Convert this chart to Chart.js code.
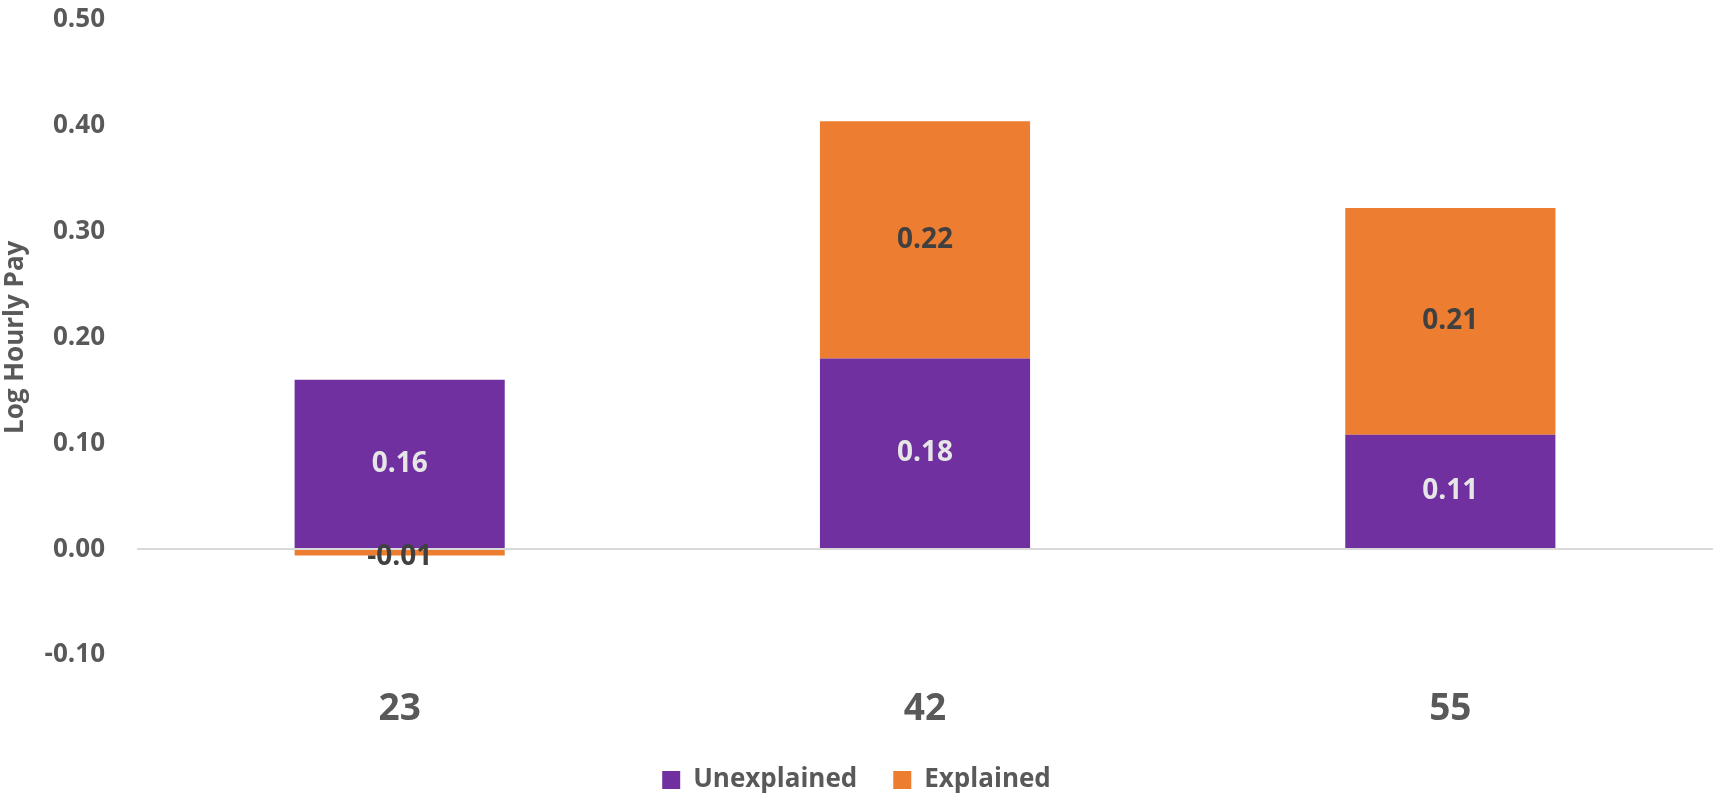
<!DOCTYPE html>
<html>
<head>
<meta charset="utf-8">
<script src="https://cdn.jsdelivr.net/npm/chart.js@4.4.1/dist/chart.umd.min.js"></script>
<style>
  body { margin: 0; background: #ffffff; }
  #wrap { width: 1716px; height: 794px; position: relative; }
</style>
</head>
<body>
<div id="wrap"><canvas id="payChart"></canvas></div>
<script>
// Chart data
const ages = ['23', '42', '55'];
const unexplained = [0.160, 0.180, 0.108];
const explained = [-0.006, 0.224, 0.214];
const yTicks = [-0.1, 0.0, 0.1, 0.2, 0.3, 0.4, 0.5];

const purple = '#7030A0';
const orange = '#ED7D31';
const greyText = '#595959';
const fontName = "'Open Sans', 'Noto Sans', sans-serif";

// Draws the value in the middle of each bar segment
const segmentLabels = {
    id: 'segmentLabels',
    afterDatasetsDraw(chart) {
        const ctx = chart.ctx;
        ctx.save();
        ctx.font = 'bold 28px ' + fontName;
        ctx.textAlign = 'center';
        ctx.textBaseline = 'middle';
        chart.data.datasets.forEach((ds, i) => {
            const meta = chart.getDatasetMeta(i);
            ctx.fillStyle = ds.labelColor;
            meta.data.forEach((bar, j) => {
                const v = ds.data[j];
                const cy = (bar.y + bar.base) / 2;
                ctx.fillText(v.toFixed(2), bar.x, cy + (v < 0 ? 4 : 0));
            });
        });
        ctx.restore();
    }
};

new Chart(document.getElementById('payChart'), {
    type: 'bar',
    data: {
        labels: ages,
        datasets: [
            {
                label: 'Unexplained',
                data: unexplained,
                backgroundColor: purple,
                labelColor: '#E6E6E6',
                categoryPercentage: 1,
                barPercentage: 0.4
            },
            {
                label: 'Explained',
                data: explained,
                backgroundColor: orange,
                labelColor: '#404040',
                categoryPercentage: 1,
                barPercentage: 0.4
            }
        ]
    },
    options: {
        responsive: true,
        maintainAspectRatio: false,
        animation: false,
        layout: { padding: { top: 0, right: 3, left: 0, bottom: -9 } },
        scales: {
            x: {
                stacked: true,
                grid: { display: false },
                border: { display: false },
                ticks: {
                    color: greyText,
                    padding: 24,
                    font: { family: fontName, size: 37, weight: 'bold' }
                },
                afterFit(scale) { scale.height = 76; }
            },
            y: {
                stacked: true,
                min: yTicks[0],
                max: yTicks[yTicks.length - 1],
                afterBuildTicks(scale) {
                    scale.ticks = yTicks.map(v => ({ value: v }));
                },
                grid: {
                    drawTicks: true,
                    tickLength: 28,
                    tickColor: 'rgba(0,0,0,0)',
                    lineWidth: 2,
                    color: c => (c.tick && Math.abs(c.tick.value) < 1e-9) ? '#D9D9D9' : 'rgba(0,0,0,0)'
                },
                border: { display: false },
                ticks: {
                    color: greyText,
                    padding: 4,
                    font: { family: fontName, size: 26, weight: 'bold' },
                    callback: v => v.toFixed(2)
                },
                title: {
                    display: true,
                    text: 'Log Hourly Pay',
                    color: greyText,
                    padding: 0,
                    font: { family: fontName, size: 26, weight: 'bold' }
                },
                afterFit(scale) { scale.width = 137; }
            }
        },
        plugins: {
            legend: {
                position: 'bottom',
                labels: {
                    color: greyText,
                    boxWidth: 18,
                    boxHeight: 18,
                    padding: 36,
                    font: { family: fontName, size: 26, weight: 'bold' }
                }
            },
            tooltip: { enabled: false }
        }
    },
    plugins: [segmentLabels]
});
</script>
</body>
</html>
